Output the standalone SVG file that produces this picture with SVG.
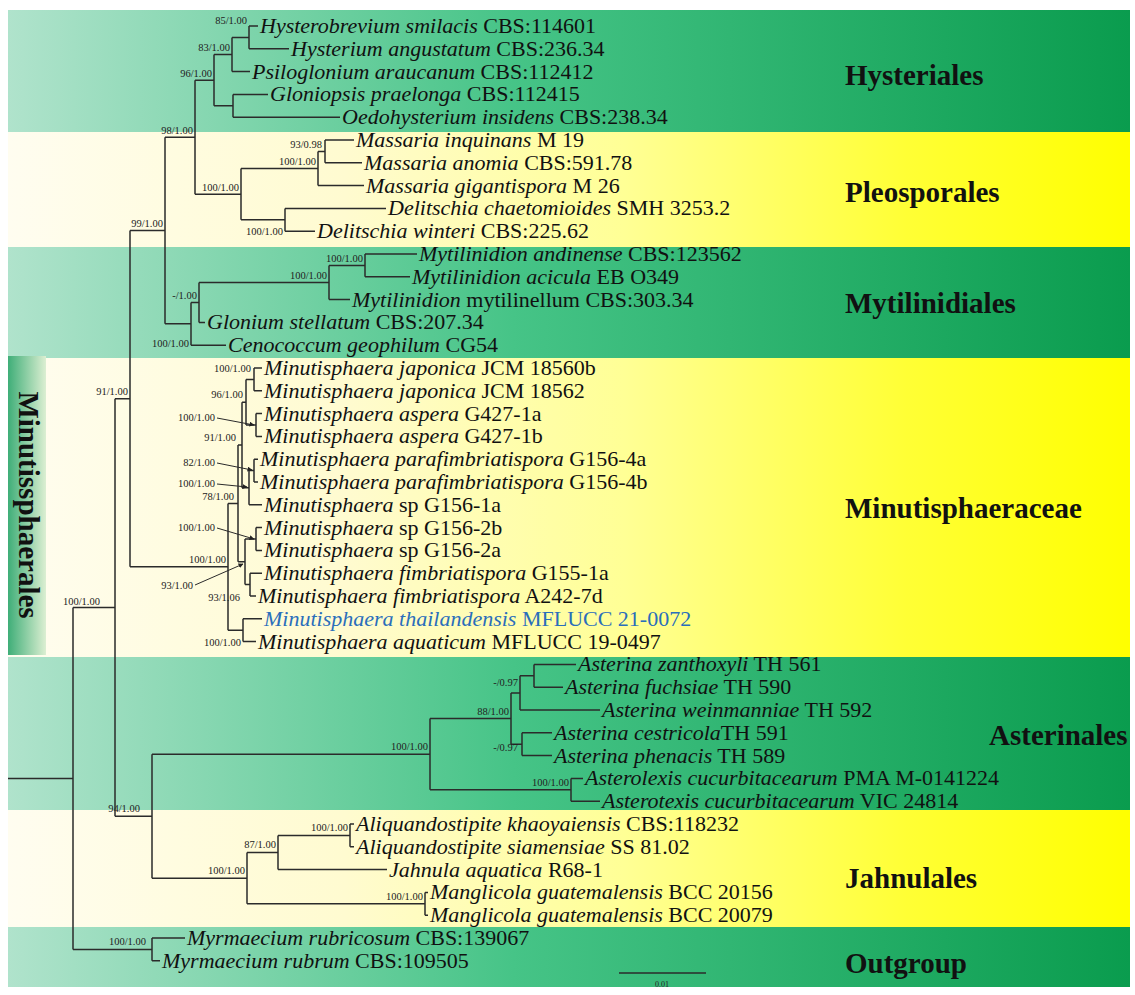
<svg xmlns="http://www.w3.org/2000/svg" width="1135" height="995" viewBox="0 0 1135 995">
<defs>
<linearGradient id="gG" x1="0" y1="0" x2="1" y2="0">
<stop offset="0" stop-color="#b0e3cc"/><stop offset="0.45" stop-color="#46c487"/><stop offset="1" stop-color="#0a9c4e"/>
</linearGradient>
<linearGradient id="gY" x1="0" y1="0" x2="1" y2="0">
<stop offset="0" stop-color="#fffdf0"/><stop offset="0.3" stop-color="#fffbd0"/><stop offset="0.55" stop-color="#ffff95"/><stop offset="0.8" stop-color="#ffff35"/><stop offset="1" stop-color="#ffff00"/>
</linearGradient>
<linearGradient id="gM" x1="0" y1="0" x2="1" y2="0">
<stop offset="0" stop-color="#3fae78"/><stop offset="1" stop-color="#dcefd2"/>
</linearGradient>
<marker id="ah" viewBox="0 0 10 10" refX="9" refY="5" markerWidth="5" markerHeight="5" orient="auto">
<path d="M0,0 L10,5 L0,10 z" fill="#222"/>
</marker>
</defs>
<style>
.t{font-family:"Liberation Serif","Times New Roman",serif;font-size:22px;fill:#111}
.i{font-style:italic}
.s{font-family:"Liberation Serif","Times New Roman",serif;font-size:10.5px;fill:#222;text-anchor:end}
.c{font-family:"Liberation Serif","Times New Roman",serif;font-size:29px;font-weight:bold;fill:#111}
.br{fill:none;stroke:#2b2b2b;stroke-width:1.5}
.ld{fill:none;stroke:#2b2b2b;stroke-width:1;marker-end:url(#ah)}
</style>
<rect width="1135" height="995" fill="#ffffff"/>
<g id="bands">
<rect x="8" y="10" width="1122" height="122" fill="url(#gG)"/>
<rect x="8" y="132" width="1122" height="115" fill="url(#gY)"/>
<rect x="8" y="247" width="1122" height="111" fill="url(#gG)"/>
<rect x="8" y="358" width="1122" height="299" fill="url(#gY)"/>
<rect x="8" y="657" width="1122" height="153" fill="url(#gG)"/>
<rect x="8" y="810" width="1122" height="117" fill="url(#gY)"/>
<rect x="8" y="927" width="1122" height="60" fill="url(#gG)"/>
</g>
<g id="order-label">
<rect x="8" y="356" width="38" height="299" fill="url(#gM)"/>
<text class="c" font-size="34" text-anchor="middle" transform="translate(19,505) rotate(90)">Minutissphaerales</text>
</g>
<g id="clade-labels">
<g id="lbl-hysteriales"><text class="c" x="845" y="85">Hysteriales</text></g>
<g id="lbl-pleosporales"><text class="c" x="845" y="202">Pleosporales</text></g>
<g id="lbl-mytilinidiales"><text class="c" x="845" y="313">Mytilinidiales</text></g>
<g id="lbl-minutisphaeraceae"><text class="c" x="845" y="518">Minutisphaeraceae</text></g>
<g id="lbl-asterinales"><text class="c" x="989" y="745">Asterinales</text></g>
<g id="lbl-jahnulales"><text class="c" x="845" y="888">Jahnulales</text></g>
<g id="lbl-outgroup"><text class="c" x="845" y="973">Outgroup</text></g>
</g>
<g id="connectors">
<path class="br" d="M249,26V48.8 M249,26H258 M249,48.8H289"/>
<path class="br" d="M232,37.4V71.6 M232,37.4H249 M232,71.6H250"/>
<path class="br" d="M233,94.4V117.2 M233,94.4H268 M233,117.2H340"/>
<path class="br" d="M214,54.5V105.8 M214,54.5H232 M214,105.8H233"/>
<path class="br" d="M325,140V162.8 M325,140H354 M325,162.8H362"/>
<path class="br" d="M318,151.4V185.6 M318,151.4H325 M318,185.6H364"/>
<path class="br" d="M285,208.4V231.2 M285,208.4H386 M285,231.2H315"/>
<path class="br" d="M241,168.5V219.8 M241,168.5H318 M241,219.8H285"/>
<path class="br" d="M195,80.15V194.15 M195,80.15H214 M195,194.15H241"/>
<path class="br" d="M365,254V276.8 M365,254H417 M365,276.8H410"/>
<path class="br" d="M329,265.4V299.6 M329,265.4H365 M329,299.6H350"/>
<path class="br" d="M199,282.5V322.4 M199,282.5H329 M199,322.4H205"/>
<path class="br" d="M191,302.45V345.2 M191,302.45H199 M191,345.2H226"/>
<path class="br" d="M165,137.15V323.8 M165,137.15H195 M165,323.8H191"/>
<path class="br" d="M254,368V390.8 M254,368H262 M254,390.8H262"/>
<path class="br" d="M256,413.6V436.4 M256,413.6H262 M256,436.4H262"/>
<path class="br" d="M246,379.4V425 M246,379.4H254 M246,425H256"/>
<path class="br" d="M254,459.2V482 M254,459.2H258 M254,482H258"/>
<path class="br" d="M249,470.6V504.8 M249,470.6H254 M249,504.8H262"/>
<path class="br" d="M242,402.2V487.7 M242,402.2H246 M242,487.7H249"/>
<path class="br" d="M256,527.6V550.4 M256,527.6H262 M256,550.4H262"/>
<path class="br" d="M250,573.2V596 M250,573.2H262 M250,596H256"/>
<path class="br" d="M245,539V584.6 M245,539H256 M245,584.6H250"/>
<path class="br" d="M238,444.95V561.8 M238,444.95H242 M238,561.8H245"/>
<path class="br" d="M243,618.8V641.6 M243,618.8H262 M243,641.6H256"/>
<path class="br" d="M228,503.4V630.2 M228,503.4H238 M228,630.2H243"/>
<path class="br" d="M130,230.5V566.8 M130,230.5H165 M130,566.8H228"/>
<path class="br" d="M534,664.4V687.2 M534,664.4H576 M534,687.2H563"/>
<path class="br" d="M520,675.8V710 M520,675.8H534 M520,710H600"/>
<path class="br" d="M522,732.8V755.6 M522,732.8H552 M522,755.6H552"/>
<path class="br" d="M511,692.9V744.2 M511,692.9H520 M511,744.2H522"/>
<path class="br" d="M571,778.4V801.2 M571,778.4H583 M571,801.2H600"/>
<path class="br" d="M430,718.55V789.8 M430,718.55H511 M430,789.8H571"/>
<path class="br" d="M350,824V846.8 M350,824H354 M350,846.8H354"/>
<path class="br" d="M278,835.4V869.6 M278,835.4H350 M278,869.6H387"/>
<path class="br" d="M425,892.4V915.2 M425,892.4H428 M425,915.2H428"/>
<path class="br" d="M247,852.5V903.8 M247,852.5H278 M247,903.8H425"/>
<path class="br" d="M152,754.2V878.15 M152,754.2H430 M152,878.15H247"/>
<path class="br" d="M115,398.65V816.2 M115,398.65H130 M115,816.2H152"/>
<path class="br" d="M152,938V960.8 M152,938H185 M152,960.8H160"/>
<path class="br" d="M73,607.4V949.4 M73,607.4H115 M73,949.4H152"/>
<path class="br" d="M8,778.4H73"/>
<path class="ld" d="M217,418L254,425"/>
<path class="ld" d="M217,463L252,470"/>
<path class="ld" d="M217,484L247,487"/>
<path class="ld" d="M217,528L254,539"/>
<path class="ld" d="M195,585L243,564"/>
<path class="br" d="M619,973H706"/>
</g>
<g id="supports">
<text class="s" x="247" y="24">85/1.00</text>
<text class="s" x="230" y="51">83/1.00</text>
<text class="s" x="212" y="77">96/1.00</text>
<text class="s" x="193" y="134">98/1.00</text>
<text class="s" x="322" y="148">93/0.98</text>
<text class="s" x="316" y="165">100/1.00</text>
<text class="s" x="239" y="191">100/1.00</text>
<text class="s" x="283" y="235">100/1.00</text>
<text class="s" x="163" y="227">99/1.00</text>
<text class="s" x="363" y="262">100/1.00</text>
<text class="s" x="327" y="279">100/1.00</text>
<text class="s" x="197" y="299">-/1.00</text>
<text class="s" x="189" y="347">100/1.00</text>
<text class="s" x="128" y="395">91/1.00</text>
<text class="s" x="251" y="372">100/1.00</text>
<text class="s" x="243" y="398">96/1.00</text>
<text class="s" x="215" y="421">100/1.00</text>
<text class="s" x="236" y="441">91/1.00</text>
<text class="s" x="215" y="466">82/1.00</text>
<text class="s" x="215" y="487">100/1.00</text>
<text class="s" x="234" y="500">78/1.00</text>
<text class="s" x="215" y="531">100/1.00</text>
<text class="s" x="226" y="563">100/1.00</text>
<text class="s" x="193" y="589">93/1.00</text>
<text class="s" x="240" y="601">93/1.06</text>
<text class="s" x="241" y="646">100/1.00</text>
<text class="s" x="100" y="605">100/1.00</text>
<text class="s" x="509" y="715">88/1.00</text>
<text class="s" x="518" y="686">-/0.97</text>
<text class="s" x="518" y="751">-/0.97</text>
<text class="s" x="428" y="750">100/1.00</text>
<text class="s" x="569" y="786">100/1.00</text>
<text class="s" x="140" y="812">94/1.00</text>
<text class="s" x="245" y="874">100/1.00</text>
<text class="s" x="276" y="848">87/1.00</text>
<text class="s" x="348" y="831">100/1.00</text>
<text class="s" x="423" y="900">100/1.00</text>
<text class="s" x="146" y="945">100/1.00</text>
<text class="s" x="662" y="987" style="text-anchor:middle;font-size:8px">0.01</text>
</g>
<g id="taxa">
<g id="n01"><text class="t" x="260" y="33"><tspan class="i">Hysterobrevium smilacis</tspan> CBS:114601</text></g>
<g id="n02"><text class="t" x="291" y="55.8"><tspan class="i">Hysterium angustatum</tspan> CBS:236.34</text></g>
<g id="n03"><text class="t" x="252" y="78.6"><tspan class="i">Psiloglonium araucanum</tspan> CBS:112412</text></g>
<g id="n04"><text class="t" x="270" y="101.4"><tspan class="i">Gloniopsis praelonga</tspan> CBS:112415</text></g>
<g id="n05"><text class="t" x="342" y="124.2"><tspan class="i">Oedohysterium insidens</tspan> CBS:238.34</text></g>
<g id="n06"><text class="t" x="356" y="147"><tspan class="i">Massaria inquinans</tspan> M 19</text></g>
<g id="n07"><text class="t" x="364" y="169.8"><tspan class="i">Massaria anomia</tspan> CBS:591.78</text></g>
<g id="n08"><text class="t" x="366" y="192.6"><tspan class="i">Massaria gigantispora</tspan> M 26</text></g>
<g id="n09"><text class="t" x="388" y="215.4"><tspan class="i">Delitschia chaetomioides</tspan> SMH 3253.2</text></g>
<g id="n10"><text class="t" x="317" y="238.2"><tspan class="i">Delitschia winteri</tspan> CBS:225.62</text></g>
<g id="n11"><text class="t" x="419" y="261"><tspan class="i">Mytilinidion andinense</tspan> CBS:123562</text></g>
<g id="n12"><text class="t" x="412" y="283.8"><tspan class="i">Mytilinidion acicula</tspan> EB O349</text></g>
<g id="n13"><text class="t" x="352" y="306.6"><tspan class="i">Mytilinidion</tspan> mytilinellum CBS:303.34</text></g>
<g id="n14"><text class="t" x="207" y="329.4"><tspan class="i">Glonium stellatum</tspan> CBS:207.34</text></g>
<g id="n15"><text class="t" x="228" y="352.2"><tspan class="i">Cenococcum geophilum</tspan> CG54</text></g>
<g id="n16"><text class="t" x="264" y="375"><tspan class="i">Minutisphaera japonica</tspan> JCM 18560b</text></g>
<g id="n17"><text class="t" x="264" y="397.8"><tspan class="i">Minutisphaera japonica</tspan> JCM 18562</text></g>
<g id="n18"><text class="t" x="264" y="420.6"><tspan class="i">Minutisphaera aspera</tspan> G427-1a</text></g>
<g id="n19"><text class="t" x="264" y="443.4"><tspan class="i">Minutisphaera aspera</tspan> G427-1b</text></g>
<g id="n20"><text class="t" x="260" y="466.2"><tspan class="i">Minutisphaera parafimbriatispora</tspan> G156-4a</text></g>
<g id="n21"><text class="t" x="260" y="489"><tspan class="i">Minutisphaera parafimbriatispora</tspan> G156-4b</text></g>
<g id="n22"><text class="t" x="264" y="511.8"><tspan class="i">Minutisphaera</tspan> sp G156-1a</text></g>
<g id="n23"><text class="t" x="264" y="534.6"><tspan class="i">Minutisphaera</tspan> sp G156-2b</text></g>
<g id="n24"><text class="t" x="264" y="557.4"><tspan class="i">Minutisphaera</tspan> sp G156-2a</text></g>
<g id="n25"><text class="t" x="264" y="580.2"><tspan class="i">Minutisphaera fimbriatispora</tspan> G155-1a</text></g>
<g id="n26"><text class="t" x="258" y="603"><tspan class="i">Minutisphaera fimbriatispora</tspan> A242-7d</text></g>
<g id="n27"><text class="t" x="264" y="625.8" style="fill:#2a6ebb"><tspan class="i">Minutisphaera thailandensis</tspan> MFLUCC 21-0072</text></g>
<g id="n28"><text class="t" x="258" y="648.6"><tspan class="i">Minutisphaera aquaticum</tspan> MFLUCC 19-0497</text></g>
<g id="n29"><text class="t" x="578" y="671.4"><tspan class="i">Asterina zanthoxyli</tspan> TH 561</text></g>
<g id="n30"><text class="t" x="565" y="694.2"><tspan class="i">Asterina fuchsiae</tspan> TH 590</text></g>
<g id="n31"><text class="t" x="602" y="717"><tspan class="i">Asterina weinmanniae</tspan> TH 592</text></g>
<g id="n32"><text class="t" x="554" y="739.8"><tspan class="i">Asterina cestricola</tspan>TH 591</text></g>
<g id="n33"><text class="t" x="554" y="762.6"><tspan class="i">Asterina phenacis</tspan> TH 589</text></g>
<g id="n34"><text class="t" x="585" y="785.4"><tspan class="i">Asterolexis cucurbitacearum</tspan> PMA M-0141224</text></g>
<g id="n35"><text class="t" x="602" y="808.2"><tspan class="i">Asterotexis cucurbitacearum</tspan> VIC 24814</text></g>
<g id="n36"><text class="t" x="356" y="831"><tspan class="i">Aliquandostipite khaoyaiensis</tspan> CBS:118232</text></g>
<g id="n37"><text class="t" x="356" y="853.8"><tspan class="i">Aliquandostipite siamensiae</tspan> SS 81.02</text></g>
<g id="n38"><text class="t" x="389" y="876.6"><tspan class="i">Jahnula aquatica</tspan> R68-1</text></g>
<g id="n39"><text class="t" x="430" y="899.4"><tspan class="i">Manglicola guatemalensis</tspan> BCC 20156</text></g>
<g id="n40"><text class="t" x="430" y="922.2"><tspan class="i">Manglicola guatemalensis</tspan> BCC 20079</text></g>
<g id="n41"><text class="t" x="187" y="945"><tspan class="i">Myrmaecium rubricosum</tspan> CBS:139067</text></g>
<g id="n42"><text class="t" x="162" y="967.8"><tspan class="i">Myrmaecium rubrum</tspan> CBS:109505</text></g>
</g>
</svg>
